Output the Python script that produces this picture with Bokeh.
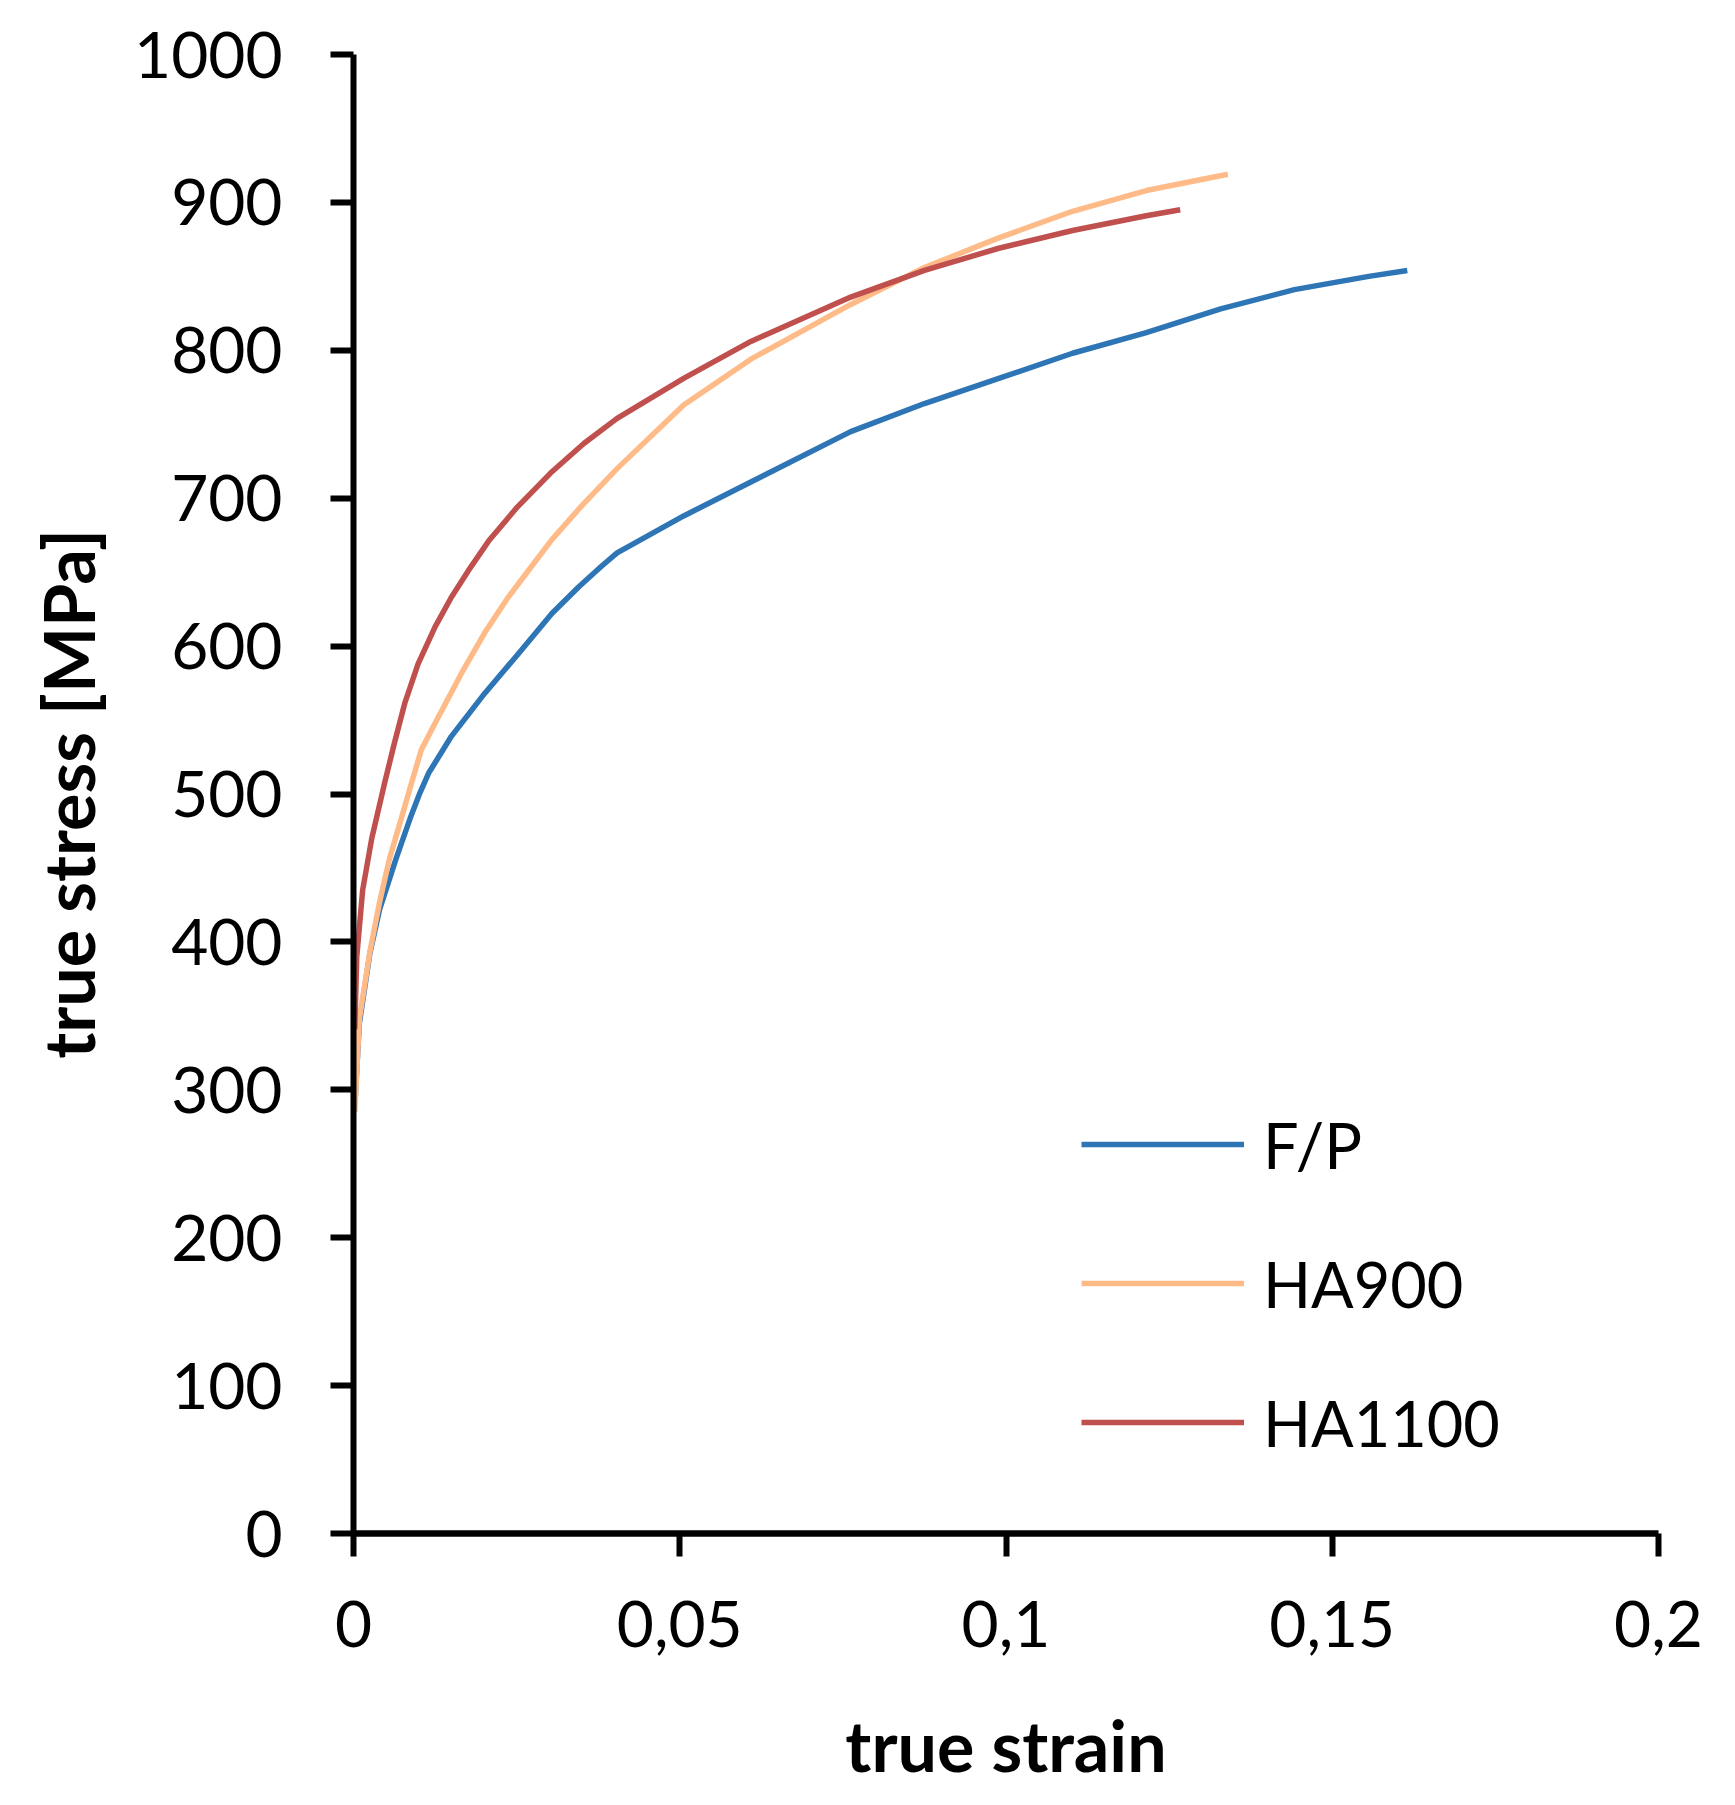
from bokeh.plotting import figure
from bokeh.models import Range1d, FixedTicker, Legend, LegendItem
from bokeh.embed import file_html
from bokeh.resources import INLINE

# ---------------- data ----------------
series_names = ["F/P", "HA900", "HA1100"]
series_colors = ["#2E75B6", "#FFBB87", "#C0504D"]

strain_fp = [0.0002, 0.0009, 0.0025, 0.0040, 0.0065, 0.0088, 0.0102, 0.0115,
             0.0150, 0.0201, 0.0253, 0.0304, 0.0345, 0.0380, 0.0404, 0.0506,
             0.0609, 0.0762, 0.0875, 0.0989, 0.1102, 0.1215, 0.1329, 0.1442,
             0.1556, 0.1615]
stress_fp = [290, 345, 392, 422, 456, 485, 501, 514,
             539, 568, 595, 622, 640, 654, 663, 688,
             711, 745, 764, 781, 798, 812, 828, 841,
             850, 854]

strain_ha900 = [0.0002, 0.0009, 0.0025, 0.0040, 0.0055, 0.0073, 0.0086, 0.0104,
                0.0130, 0.0166, 0.0201, 0.0237, 0.0273, 0.0304, 0.0350, 0.0404,
                0.0506, 0.0609, 0.0762, 0.0875, 0.0989, 0.1102, 0.1215, 0.1340]
stress_ha900 = [285, 348, 393, 427, 456, 483, 503, 530,
                552, 582, 609, 633, 654, 672, 695, 720,
                763, 794, 831, 856, 876, 894, 908, 919]

strain_ha1100 = [0.0002, 0.0005, 0.0014, 0.0028, 0.0048, 0.0063, 0.0079, 0.0099,
                 0.0125, 0.0150, 0.0176, 0.0207, 0.0251, 0.0302, 0.0353, 0.0404,
                 0.0506, 0.0609, 0.0762, 0.0875, 0.0989, 0.1102, 0.1215, 0.1267]
stress_ha1100 = [341, 390, 435, 470, 508, 535, 562, 588,
                 613, 633, 651, 671, 694, 717, 737, 754,
                 781, 806, 836, 854, 869, 881, 891, 895]

x_ticks = [0, 0.05, 0.1, 0.15, 0.2]
x_tick_labels = ["0", "0,05", "0,1", "0,15", "0,2"]
y_ticks = [0, 100, 200, 300, 400, 500, 600, 700, 800, 900, 1000]

x_title = "true strain"
y_title = "true stress [MPa]"

# ---------------- figure ----------------
p = figure(width=1719, height=1789,
           x_range=Range1d(0, 0.2), y_range=Range1d(0, 1000),
           output_backend="svg", toolbar_location=None,
           min_border_left=353, min_border_right=61,
           min_border_top=54, min_border_bottom=255)
p.outline_line_color = None
p.xgrid.grid_line_color = None
p.ygrid.grid_line_color = None
p.background_fill_color = "white"
p.border_fill_color = "white"

xs = [strain_fp, strain_ha900, strain_ha1100]
ys = [stress_fp, stress_ha900, stress_ha1100]
renderers = []
for x, y, c in zip(xs, ys, series_colors):
    r = p.line(x, y, line_color=c, line_width=5.5, line_join="round", line_cap="butt")
    renderers.append(r)

# axes
p.xaxis.ticker = FixedTicker(ticks=x_ticks)
p.xaxis.major_label_overrides = {t: l for t, l in zip(x_ticks, x_tick_labels)}
p.yaxis.ticker = FixedTicker(ticks=y_ticks)

for ax in (p.xaxis[0], p.yaxis[0]):
    ax.axis_line_color = "black"
    ax.major_tick_line_color = "black"
    ax.minor_tick_line_color = None
    ax.major_tick_in = 0
    ax.major_tick_out = 23
    ax.major_label_text_font = "Lato"
    ax.major_label_text_font_size = "64px"
    ax.major_label_text_color = "black"
    ax.axis_label_text_font = "Lato"
    ax.axis_label_text_font_size = "70px"
    ax.axis_label_text_font_style = "bold"
    ax.axis_label_text_color = "black"

p.xaxis.axis_line_width = 6.5
p.xaxis.major_tick_line_width = 6
p.yaxis.axis_line_width = 6
p.yaxis.major_tick_line_width = 6
p.xaxis.major_label_standoff = 44
p.yaxis.major_label_standoff = 48
p.xaxis.axis_label = x_title
p.yaxis.axis_label = y_title
p.xaxis.axis_label_standoff = 53
p.yaxis.axis_label_standoff = 21

legend = Legend(items=[LegendItem(label=n, renderers=[r]) for n, r in zip(series_names, renderers)],
                location=(728, 73))
legend.glyph_width = 163
legend.glyph_height = 76
legend.label_height = 76
legend.spacing = 63
legend.label_standoff = 19
legend.padding = 10
legend.margin = 0
legend.border_line_color = None
legend.background_fill_alpha = 0
legend.label_text_font = "Lato"
legend.label_text_font_size = "63px"
legend.label_text_color = "black"
p.add_layout(legend)

open("out.html", "w").write(file_html(p, INLINE))
